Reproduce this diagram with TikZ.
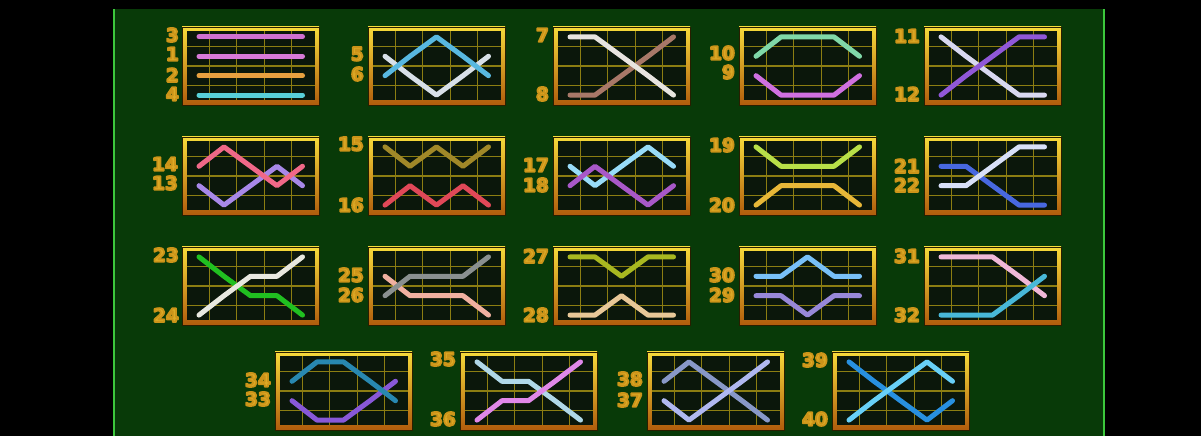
\documentclass[tikz,border=0pt]{standalone}
\usepackage{fontspec}
\newfontfamily\labfont{DejaVu Sans}[BoldFont={DejaVu Sans Bold}]
\definecolor{panel}{HTML}{083A08}
\definecolor{edgegreen}{HTML}{3CC83C}
\definecolor{boxtop}{HTML}{F6DA3A}
\definecolor{boxbot}{HTML}{B05C0C}
\definecolor{boxedge}{HTML}{2A1E00}
\definecolor{boxin}{HTML}{0B170B}
\definecolor{gridc}{HTML}{8C7E12}
\definecolor{labfill}{HTML}{DCAA26}
% line colours
\definecolor{cA}{HTML}{D070D0}\definecolor{cB}{HTML}{D87AD8}
\definecolor{cC}{HTML}{E8A040}\definecolor{cD}{HTML}{58D0D8}
\definecolor{cE}{HTML}{58B8E0}\definecolor{cF}{HTML}{D8E0E8}
\definecolor{cG}{HTML}{E8E4E0}\definecolor{cH}{HTML}{A87868}
\definecolor{cI}{HTML}{80D8A8}\definecolor{cJ}{HTML}{D070E0}
\definecolor{cK}{HTML}{D8D8F0}\definecolor{cL}{HTML}{9058D8}
\definecolor{cM}{HTML}{F06888}\definecolor{cN}{HTML}{A888E8}
\definecolor{cO}{HTML}{A08828}\definecolor{cP}{HTML}{E04858}
\definecolor{cQ}{HTML}{98DCF8}\definecolor{cR}{HTML}{A858C8}
\definecolor{cS}{HTML}{B8E048}\definecolor{cT}{HTML}{E8B838}
\definecolor{cU}{HTML}{4868E0}\definecolor{cV}{HTML}{D8E0F8}
\definecolor{cW}{HTML}{20C020}\definecolor{cX}{HTML}{E8E8E0}
\definecolor{cY}{HTML}{8A9090}\definecolor{cZ}{HTML}{F0B0A0}
\definecolor{da}{HTML}{A8B820}\definecolor{db}{HTML}{E8C898}
\definecolor{dc}{HTML}{78C0F8}\definecolor{dd}{HTML}{9888D8}
\definecolor{de}{HTML}{F0B8D8}\definecolor{df}{HTML}{48B8D8}
\definecolor{dg}{HTML}{2888B0}\definecolor{dh}{HTML}{8858D8}
\definecolor{di}{HTML}{B0D8E8}\definecolor{dj}{HTML}{E088E8}
\definecolor{dk}{HTML}{8898C8}\definecolor{dl}{HTML}{B0B8F0}
\definecolor{dm}{HTML}{2890E0}\definecolor{dn}{HTML}{68D0F8}
\tikzset{
  pline/.style={line width=5pt,line cap=round,line join=round},
  gridl/.style={draw=gridc,line width=1.3pt},
  labf/.style={font=\labfont\bfseries\fontsize{18.5}{19}\selectfont,inner sep=0pt,anchor=east},
}
% box: name, left, top (image coords)
\newcommand\pbox[3]{%
  \shadedraw[top color=boxtop,bottom color=boxbot,draw=boxedge,line width=0.6pt]
    (#2,{436-#3}) rectangle ({#2+137},{436-#3-78});
  \fill[boxin] ({#2+4.5},{436-#3-4.5}) rectangle ({#2+132.5},{436-#3-73.5});
  \foreach \k in {1,...,4}{\draw[gridl] ({#2+27.4*\k},{436-#3-4.5}) -- ({#2+27.4*\k},{436-#3-73.5});}
  \foreach \k in {1,2,3}{\draw[gridl] ({#2+4.5},{436-#3-19.5*\k}) -- ({#2+132.5},{436-#3-19.5*\k});}
  \coordinate (#1) at (#2,{436-#3});
}
% payline: left, top, colour, five row indices
\newcommand\PL[8]{%
  \draw[pline,draw=#3] ({#1+17},{436-#2-9.9-19.4*#4}) -- ({#1+42},{436-#2-9.9-19.4*#5})
   -- ({#1+68.5},{436-#2-9.9-19.4*#6}) -- ({#1+95},{436-#2-9.9-19.4*#7})
   -- ({#1+120.5},{436-#2-9.9-19.4*#8});}
% label: name, right x, centre y (image), text
\newcommand\lab[4]{%
  \node[labf,text=labfill] (#1) at (#2,{436-#3})
    {\special{pdf:literal direct 2 Tr 1.8 w 1 j 0.80 0.58 0.10 RG}#4\special{pdf:literal direct 0 Tr}};
}
\begin{document}
\begin{tikzpicture}[x=1pt,y=1pt]
\useasboundingbox (0,0) rectangle (1201,436);
\fill[black] (0,0) rectangle (1201,436);
\fill[panel] (113,0) rectangle (1105,427);
\draw[edgegreen,line width=2.4pt] (114.2,0) -- (114.2,427);
\draw[edgegreen,line width=2.4pt] (1104,0) -- (1104,427);
% ---------- row 1
\pbox{b1}{182}{27}
\PL{182}{27}{cA}{0}{0}{0}{0}{0}
\PL{182}{27}{cB}{1}{1}{1}{1}{1}
\PL{182}{27}{cC}{2}{2}{2}{2}{2}
\PL{182}{27}{cD}{3}{3}{3}{3}{3}
\lab{n3}{179}{35}{3}\lab{n1}{179}{54}{1}\lab{n2}{179}{75}{2}\lab{n4}{179}{94}{4}
\pbox{b2}{368}{27}
\PL{368}{27}{cF}{1}{2}{3}{2}{1}
\PL{368}{27}{cE}{2}{1}{0}{1}{2}
\lab{n5}{364}{54}{5}\lab{n6}{364}{74}{6}
\pbox{b3}{553}{27}
\PL{553}{27}{cH}{3}{3}{2}{1}{0}
\PL{553}{27}{cG}{0}{0}{1}{2}{3}
\lab{n7}{549}{35}{7}\lab{n8}{549}{94}{8}
\pbox{b4}{739}{27}
\PL{739}{27}{cI}{1}{0}{0}{0}{1}
\PL{739}{27}{cJ}{2}{3}{3}{3}{2}
\lab{n10}{735}{53}{10}\lab{n9}{735}{72}{9}
\pbox{b5}{924}{27}
\PL{924}{27}{cK}{0}{1}{2}{3}{3}
\PL{924}{27}{cL}{3}{2}{1}{0}{0}
\lab{n11}{920}{36}{11}\lab{n12}{920}{94}{12}
% ---------- row 2
\pbox{b6}{182}{137}
\PL{182}{137}{cN}{2}{3}{2}{1}{2}
\PL{182}{137}{cM}{1}{0}{1}{2}{1}
\lab{n14}{178}{164}{14}\lab{n13}{178}{183}{13}
\pbox{b7}{368}{137}
\PL{368}{137}{cO}{0}{1}{0}{1}{0}
\PL{368}{137}{cP}{3}{2}{3}{2}{3}
\lab{n15}{364}{144}{15}\lab{n16}{364}{205}{16}
\pbox{b8}{553}{137}
\PL{553}{137}{cQ}{1}{2}{1}{0}{1}
\PL{553}{137}{cR}{2}{1}{2}{3}{2}
\lab{n17}{549}{165}{17}\lab{n18}{549}{185}{18}
\pbox{b9}{739}{137}
\PL{739}{137}{cS}{0}{1}{1}{1}{0}
\PL{739}{137}{cT}{3}{2}{2}{2}{3}
\lab{n19}{735}{145}{19}\lab{n20}{735}{205}{20}
\pbox{b10}{924}{137}
\PL{924}{137}{cU}{1}{1}{2}{3}{3}
\PL{924}{137}{cV}{2}{2}{1}{0}{0}
\lab{n21}{920}{166}{21}\lab{n22}{920}{185}{22}
% ---------- row 3
\pbox{b11}{182}{247}
\PL{182}{247}{cW}{0}{1}{2}{2}{3}
\PL{182}{247}{cX}{3}{2}{1}{1}{0}
\lab{n23}{179}{255}{23}\lab{n24}{179}{315}{24}
\pbox{b12}{368}{247}
\PL{368}{247}{cZ}{1}{2}{2}{2}{3}
\PL{368}{247}{cY}{2}{1}{1}{1}{0}
\lab{n25}{364}{275}{25}\lab{n26}{364}{295}{26}
\pbox{b13}{553}{247}
\PL{553}{247}{da}{0}{0}{1}{0}{0}
\PL{553}{247}{db}{3}{3}{2}{3}{3}
\lab{n27}{549}{256}{27}\lab{n28}{549}{315}{28}
\pbox{b14}{739}{247}
\PL{739}{247}{dc}{1}{1}{0}{1}{1}
\PL{739}{247}{dd}{2}{2}{3}{2}{2}
\lab{n30}{735}{275}{30}\lab{n29}{735}{295}{29}
\pbox{b15}{924}{247}
\PL{924}{247}{de}{0}{0}{0}{1}{2}
\PL{924}{247}{df}{3}{3}{3}{2}{1}
\lab{n31}{920}{256}{31}\lab{n32}{920}{315}{32}
% ---------- row 4
\pbox{b16}{275}{352}
\PL{275}{352}{dh}{2}{3}{3}{2}{1}
\PL{275}{352}{dg}{1}{0}{0}{1}{2}
\lab{n34}{271}{380}{34}\lab{n33}{271}{399}{33}
\pbox{b17}{460}{352}
\PL{460}{352}{di}{0}{1}{1}{2}{3}
\PL{460}{352}{dj}{3}{2}{2}{1}{0}
\lab{n35}{456}{359}{35}\lab{n36}{456}{419}{36}
\pbox{b18}{647}{352}
\PL{647}{352}{dk}{1}{0}{1}{2}{3}
\PL{647}{352}{dl}{2}{3}{2}{1}{0}
\lab{n38}{643}{379}{38}\lab{n37}{643}{400}{37}
\pbox{b19}{832}{352}
\PL{832}{352}{dm}{0}{1}{2}{3}{2}
\PL{832}{352}{dn}{3}{2}{1}{0}{1}
\lab{n39}{828}{360}{39}\lab{n40}{828}{419}{40}
\end{tikzpicture}
\end{document}
